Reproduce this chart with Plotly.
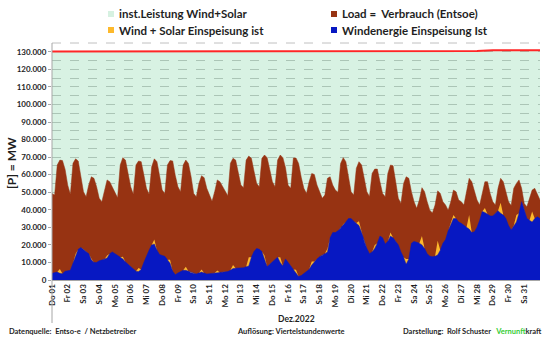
import pandas as pd
import plotly.graph_objects as go

# ---------------- data (MW) ----------------
day_labels = ["Do 01", "Fr 02", "Sa 03", "So 04", "Mo 05", "Di 06", "Mi 07", "Do 08",
              "Fr 09", "Sa 10", "So 11", "Mo 12", "Di 13", "Mi 14", "Do 15", "Fr 16",
              "Sa 17", "So 18", "Mo 19", "Di 20", "Mi 21", "Do 22", "Fr 23", "Sa 24",
              "So 25", "Mo 26", "Di 27", "Mi 28", "Do 29", "Fr 30", "Sa 31"]

# 4-hourly values (00, 04, 08, 12, 16, 20 h) for each day, plus 31.12. 24:00
load_mw = [
    49300, 48400, 65500, 68300, 68000, 63000,
    54000, 48800, 66500, 69000, 67800, 60000,
    50300, 47400, 54100, 58800, 57900, 53100,
    46500, 44600, 50300, 57000, 56000, 53100,
    49300, 46800, 65500, 69700, 68300, 61000,
    53100, 48800, 65500, 67800, 67400, 60000,
    52200, 48800, 64500, 69000, 67400, 59500,
    51200, 49300, 65500, 68000, 67800, 59500,
    53100, 50300, 65500, 68300, 66400, 59000,
    49300, 47400, 55000, 59400, 58300, 52200,
    48400, 44800, 50300, 57000, 56000, 53100,
    50300, 48000, 66500, 69300, 68300, 60500,
    54100, 52600, 68300, 70600, 69300, 62000,
    55000, 53100, 69300, 71200, 69700, 63000,
    56000, 53100, 68300, 71200, 69700, 64000,
    54000, 52200, 69500, 69500, 66400, 58500,
    52200, 49300, 56000, 60700, 60100, 54100,
    50300, 46500, 48400, 57900, 58800, 54100,
    51200, 50000, 66400, 69700, 67400, 58500,
    50300, 48400, 63600, 67400, 65500, 58000,
    50300, 47600, 60700, 63200, 63200, 56000,
    49300, 47400, 60700, 65500, 65100, 56000,
    46500, 43600, 55000, 58800, 57900, 50300,
    44600, 40800, 45500, 52600, 50300, 44600,
    39800, 38200, 42700, 50800, 49300, 44600,
    42700, 39800, 44600, 51200, 50300, 45500,
    44600, 42700, 50300, 57900, 56000, 50300,
    45500, 42700, 50300, 56000, 56000, 49300,
    44600, 42700, 52200, 57900, 56000, 50300,
    44600, 42400, 52200, 55000, 57000, 52200,
    43600, 41700, 46500, 51200, 52200, 48400,
    45600,
]

wind_mw = [
    3800, 4200, 4500, 3800, 3600, 5000,
    5200, 5500, 9500, 13500, 17500, 18500,
    17500, 16500, 15000, 11500, 10000, 10000,
    11000, 11400, 11800, 12500, 15000, 16000,
    15000, 14000, 13000, 12000, 10300, 9000,
    7500, 6000, 5000, 4800, 6000, 10000,
    14000, 17000, 20000, 20500, 17000, 14500,
    14000, 13500, 11500, 9500, 5000, 3000,
    4000, 4800, 5500, 5500, 5000, 4200,
    3800, 3400, 4000, 4500, 4000, 3400,
    3600, 3800, 4000, 4200, 4300, 4500,
    4700, 4800, 5500, 6500, 6700, 6700,
    6700, 7000, 7500, 8000, 13000, 16200,
    18000, 17500, 16200, 12000, 7600, 9000,
    10500, 11500, 13000, 10000, 8000, 12000,
    10000, 8000, 6000, 3800, 2000, 2500,
    3500, 4500, 6000, 8500, 10500, 12000,
    13300, 14000, 15000, 16000, 24000, 27000,
    27000, 28000, 29500, 31000, 33000, 35000,
    35000, 33500, 32500, 31000, 27000, 22000,
    18000, 15000, 16000, 18000, 21000, 25000,
    24000, 20500, 22000, 25000, 24000, 22000,
    20000, 16000, 13000, 9000, 12000, 21000,
    22000, 21500, 21000, 20000, 18000, 15000,
    13500, 13300, 13500, 14300, 17000, 21000,
    23000, 28000, 32000, 35000, 35000, 33000,
    32300, 31000, 30000, 29000, 27000, 27500,
    30000, 34000, 39000, 38500, 37500, 36500,
    36500, 38000, 39500, 38000, 37000, 35000,
    31000, 28500, 31000, 33000, 38000, 44600,
    40000, 35000, 34000, 33000, 35000, 36000,
    35000,
]

# solar contribution at noon for each day (MW)
solar_noon_mw = [2500, 1500, 800, 1500, 1200, 2000, 2500, 2000, 2000, 1500, 1200,
                 2000, 5000, 2000, 3000, 2000, 2000, 2000, 800, 2500, 2000, 2000,
                 3000, 5000, 8000, 2000, 8000, 2500, 6000, 4000, 6000]

# installed capacity wind+solar, daily (plus 01.01. 00:00)
installed_mw = [130100] * 6 + [130400] * 22 + [130900] * 4

# ---------------- build ----------------
times = pd.date_range("2022-12-01 00:00", "2023-01-01 00:00", freq="4h")
days = pd.date_range("2022-12-01", "2023-01-01", freq="D")
solar_mw = [0] * len(times)
for d, v in enumerate(solar_noon_mw):
    solar_mw[d * 6 + 3] = v

W, H = 548, 351
L, R, T, B = 52, 540, 43, 280  # plot area in px


def px(xp):
    return (xp - L) / (R - L)


def py(yp):
    return (B - yp) / (B - T)


FONT = "Lato"
TXT = "#1f1f1f"
MINT = "rgba(150,220,180,0.37)"
BROWN = "#973312"
BLUE = "#0718c2"
YELLOW = "#fdb92c"
RED = "#ff2626"

fig = go.Figure()
fig.add_trace(go.Scatter(x=days, y=installed_mw, mode="lines", fill="tozeroy",
                         fillcolor=MINT, line=dict(color=RED, width=2),
                         hoverinfo="skip", showlegend=False))
fig.add_trace(go.Scatter(x=times, y=load_mw, mode="lines", fill="tozeroy",
                         fillcolor=BROWN, line=dict(color=BROWN, width=0.5),
                         hoverinfo="skip", showlegend=False))
fig.add_trace(go.Scatter(x=times, y=wind_mw, mode="lines", stackgroup="ee",
                         fillcolor=BLUE, line=dict(color=BLUE, width=0.5),
                         hoverinfo="skip", showlegend=False))
fig.add_trace(go.Scatter(x=times, y=solar_mw, mode="lines", stackgroup="ee",
                         fillcolor=YELLOW, line=dict(color=YELLOW, width=0),
                         hoverinfo="skip", showlegend=False))

shapes = []
annotations = []

# top dashed line at 135.000
shapes.append(dict(type="line", xref="paper", yref="paper", x0=0, x1=1, y0=1, y1=1,
                   line=dict(color="#c0c0c0", width=1, dash="dash")))
# left axis line extended below the labels
shapes.append(dict(type="line", xref="paper", yref="paper", x0=0, x1=0,
                   y0=py(323), y1=1, line=dict(color="#a6a6a6", width=1)))

# legend
legend_items = [
    ("inst.Leistung Wind+Solar", "#d6f1e1", 108, 14),
    ("Load =  Verbrauch (Entsoe)", BROWN, 331, 14),
    ("Wind + Solar Einspeisung ist", YELLOW, 108, 30),
    ("Windenergie Einspeisung Ist", BLUE, 331, 30),
]
for text, col, xl, yc in legend_items:
    shapes.append(dict(type="rect", xref="paper", yref="paper",
                       x0=px(xl), x1=px(xl + 6), y0=py(yc + 3), y1=py(yc - 3),
                       fillcolor=col, line=dict(width=0)))
    annotations.append(dict(text=text, xref="paper", yref="paper", x=px(xl + 9), y=py(yc),
                            xanchor="left", yanchor="middle", showarrow=False,
                            font=dict(family=FONT, size=11.5, color=TXT, weight="bold")))

# y title
annotations.append(dict(text="[P] = MW", xref="paper", yref="paper", x=px(11), y=py(163),
                        textangle=-90, xanchor="center", yanchor="middle", showarrow=False,
                        font=dict(family=FONT, size=12, color=TXT, weight="bold")))
# month label
annotations.append(dict(text="Dez.2022", xref="paper", yref="paper", x=px(296), y=py(319),
                        xanchor="center", yanchor="middle", showarrow=False,
                        font=dict(family=FONT, size=8.5, color=TXT, weight="bold")))
# footer
footer = [
    ("Datenquelle:  Entso-e  / Netzbetreiber", 7),
    ("Auflösung: Viertelstundenwerte", 235),
    ("Darstellung:  Rolf Schuster   <span style='color:#33cc33'>Vernunft</span>kraft", 401),
]
for text, xl in footer:
    annotations.append(dict(text=text, xref="paper", yref="paper", x=px(xl), y=py(331),
                            xanchor="left", yanchor="middle", showarrow=False,
                            font=dict(family=FONT, size=7.5, color=TXT, weight="bold")))

fig.update_layout(
    width=W, height=H, autosize=False,
    margin=dict(l=L, r=W - R, t=T, b=H - B, pad=0),
    paper_bgcolor="white", plot_bgcolor="white",
    separators=",.",
    showlegend=False,
    shapes=shapes, annotations=annotations,
    xaxis=dict(type="date", range=["2022-12-01 00:00", "2023-01-01 00:00"],
               tickvals=list(days[:31]), ticktext=day_labels, tickangle=-90,
               tickfont=dict(family=FONT, size=8, color=TXT, weight="bold"),
               showgrid=False, showline=True, linecolor="#a6a6a6", linewidth=1,
               ticks="", zeroline=False, fixedrange=True),
    yaxis=dict(range=[0, 135000], tickvals=list(range(0, 130001, 10000)),
               tickformat=",d",
               tickfont=dict(family=FONT, size=8, color=TXT, weight="bold"),
               showgrid=True, gridcolor="#b8b8b8", griddash="dash", gridwidth=1,
               minor=dict(tickvals=list(range(5000, 135001, 10000)), showgrid=True,
                          gridcolor="#b8b8b8", griddash="dash", gridwidth=1),
               ticks="outside", ticklen=3, tickcolor="#a6a6a6",
               showline=False, zeroline=False, fixedrange=True),
)

fig.write_html("out.html")
